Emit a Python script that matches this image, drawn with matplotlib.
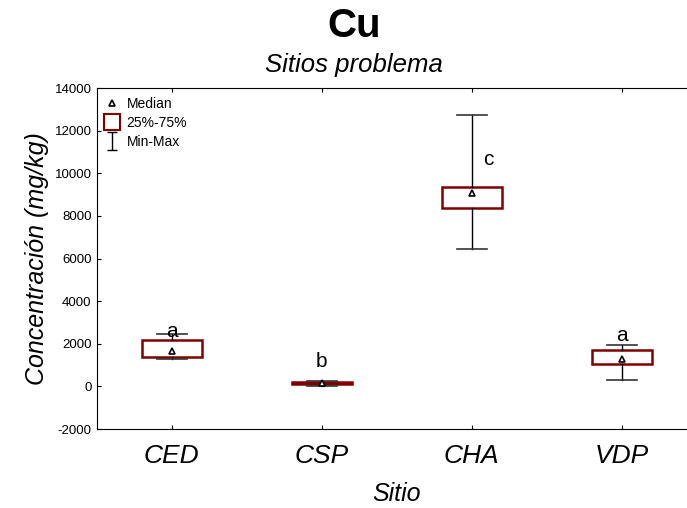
import matplotlib
matplotlib.use("Agg")
import matplotlib.pyplot as plt
from matplotlib.lines import Line2D
from matplotlib.path import Path

plt.rcParams["font.family"] = ["Liberation Sans", "DejaVu Sans"]
plt.rcParams["axes.unicode_minus"] = False

sites = ["CED", "CSP", "CHA", "VDP"]
q_min = [1300, 40, 6450, 290]
q1 = [1400, 110, 8360, 1040]
median = [1660, 150, 9060, 1280]
q3 = [2160, 200, 9340, 1690]
q_max = [2440, 270, 12720, 1920]
groups = ["a", "b", "c", "a"]
group_y = [2580, 1170, 10650, 2400]
group_dx = [0.0, 0.0, 0.11, 0.0]

dark_red = "#800000"

fig = plt.figure(figsize=(6.87, 5.08), dpi=100)
ax = fig.add_axes([0.1405, 0.1555, 0.874, 0.671])
ax.spines["right"].set_visible(False)

pos = list(range(1, len(sites) + 1))
stats = [
    {"med": m, "q1": a, "q3": b, "whislo": lo, "whishi": hi, "mean": m}
    for m, a, b, lo, hi in zip(median, q1, q3, q_min, q_max)
]
ax.bxp(
    stats,
    positions=pos,
    widths=0.4,
    capwidths=0.2,
    showfliers=False,
    showmeans=True,
    patch_artist=True,
    boxprops=dict(facecolor="white", edgecolor=dark_red, linewidth=1.8),
    medianprops=dict(linewidth=0),
    whiskerprops=dict(color="black", linewidth=1),
    capprops=dict(color="#333333", linewidth=1.2),
    meanprops=dict(marker="^", markerfacecolor="white", markeredgecolor="black",
                   markersize=5, markeredgewidth=1.2),
)

for x, txt, y, dx in zip(pos, groups, group_y, group_dx):
    ax.text(x + dx, y, txt, ha="center", va="center", fontsize=15)

ax.set_xlim(0.5, 4.5)
ax.set_ylim(-2000, 14000)
ax.set_yticks(range(-2000, 14001, 2000))
ax.set_xticks(pos)
ax.set_xticklabels(sites, fontsize=19, style="italic")
ax.tick_params(axis="y", labelsize=9.5, direction="in", length=3)
ax.tick_params(axis="x", direction="in", top=True, length=3, pad=11)
ax.set_ylabel("Concentración (mg/kg)", fontsize=18, style="italic", labelpad=4)
ax.set_xlabel("Sitio", fontsize=18, style="italic", labelpad=10)

fig.text(0.515, 0.948, "Cu", ha="center", va="center", fontsize=29, weight="bold")
fig.text(0.515, 0.872, "Sitios problema", ha="center", va="center", fontsize=18.5,
         style="italic")

ibeam = Path([(-0.5, -1), (0.5, -1), (0, -1), (0, 1), (-0.5, 1), (0.5, 1)],
             [Path.MOVETO, Path.LINETO, Path.MOVETO, Path.LINETO, Path.MOVETO, Path.LINETO])
handles = [
    Line2D([], [], linestyle="none", marker="^", markerfacecolor="white",
           markeredgecolor="black", markersize=5, markeredgewidth=1.2),
    Line2D([], [], linestyle="none", marker="s", markerfacecolor="white",
           markeredgecolor=dark_red, markersize=11, markeredgewidth=1.5),
    Line2D([], [], linestyle="none", marker=ibeam, color="black", markersize=13,
           markeredgewidth=1),
]
ax.legend(handles, ["Median", "25%-75%", "Min-Max"], loc="upper left", frameon=False,
          fontsize=10, handlelength=1.0, handletextpad=0.5, labelspacing=0.35,
          borderaxespad=0.2, borderpad=0.45)

fig.savefig("out.png", dpi=100)
